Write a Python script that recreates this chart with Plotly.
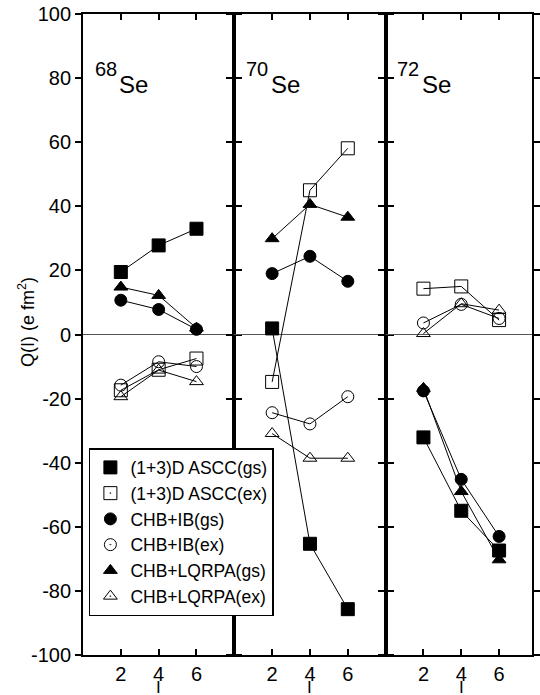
import plotly.graph_objects as go
from plotly.subplots import make_subplots

# ---------------- data ----------------
spins = [2, 4, 6]
nuclei = ["68", "70", "72"]
y_ticks = list(range(-100, 101, 20))

ascc_gs = [[19.5, 27.8, 33.0], [1.9, -65.3, -85.7], [-32.1, -55.0, -67.4]]
ascc_ex = [[-17.4, -11.0, -7.5], [-14.8, 45.0, 58.1], [14.3, 15.0, 4.5]]
ib_gs = [[10.7, 7.8, 1.6], [19.0, 24.4, 16.6], [-17.6, -45.2, -63.0]]
ib_ex = [[-15.8, -8.5, -10.0], [-24.4, -27.9, -19.4], [3.6, 9.4, 5.0]]
lq_gs = [[14.8, 12.2, 2.0], [29.9, 40.6, 36.6], [-16.8, -49.0, -70.3]]
lq_ex = [[-19.4, -11.1, -14.7], [-30.9, -38.6, -38.6], [0.3, 9.6, 7.6]]

series = [
    ("(1+3)D ASCC(gs)", ascc_gs, "square", "square", 13),
    ("(1+3)D ASCC(ex)", ascc_ex, "square-open", "square-open-dot", 13),
    ("CHB+IB(gs)", ib_gs, "circle", "circle", 12),
    ("CHB+IB(ex)", ib_ex, "circle-open", "circle-open-dot", 12),
    ("CHB+LQRPA(gs)", lq_gs, "triangle-up", "triangle-up", 12),
    ("CHB+LQRPA(ex)", lq_ex, "triangle-up-open", "triangle-up-open-dot", 12),
]

FONT = "Liberation Sans, Arial, sans-serif"

fig = make_subplots(rows=1, cols=3, horizontal_spacing=0)

for p in range(3):
    for name, data, sym, lsym, size in series:
        fig.add_trace(go.Scatter(
            x=spins, y=data[p], mode="lines+markers",
            line=dict(color="black", width=1),
            marker=dict(symbol=sym, size=size, color="black",
                        line=dict(color="black", width=1)),
            showlegend=False, hoverinfo="skip"), row=1, col=p + 1)

# legend-only entries
for name, data, sym, lsym, size in series:
    fig.add_trace(go.Scatter(
        x=[None], y=[None], mode="markers", name=name,
        marker=dict(symbol=lsym, size=size, color="black",
                    line=dict(color="black", width=1))), row=1, col=1)

W, L, R, T, B = 540, 83, 0, 14, 40
plot_w = W - L - R
plot_h = 695 - T - B
px_per_unit = 154 / 8.0
doms = [[0, 154 / plot_w], [154 / plot_w, 308 / plot_w], [308 / plot_w, 1]]
xmax3 = (plot_w - 308) / px_per_unit

for i in range(3):
    xa = "xaxis" if i == 0 else f"xaxis{i+1}"
    ya = "yaxis" if i == 0 else f"yaxis{i+1}"
    fig.update_layout({
        xa: dict(domain=doms[i], range=[0, 8 if i < 2 else xmax3],
                 tickvals=spins, ticktext=[str(s) for s in spins],
                 ticks="inside", ticklen=6, tickwidth=1.5, tickcolor="black",
                 showline=True, linecolor="black", linewidth=1.8, mirror="ticks",
                 showgrid=False, zeroline=False,
                 tickfont=dict(family=FONT, size=20, color="black")),
        ya: dict(range=[-100, 100], tickvals=y_ticks,
                 ticktext=[str(v) for v in y_ticks],
                 ticks="outside", ticklen=6, tickwidth=1.5, tickcolor="black",
                 showline=True, linecolor="black", linewidth=1.8, mirror="ticks",
                 showgrid=False, zeroline=True, zerolinecolor="#555",
                 zerolinewidth=1, showticklabels=(i == 0),
                 tickfont=dict(family=FONT, size=20, color="black")),
    })

annotations = []
for i, nuc in enumerate(nuclei):
    xr = "x" if i == 0 else f"x{i+1}"
    yr = "y" if i == 0 else f"y{i+1}"
    annotations.append(dict(x=0.52, y=82.9, xref=xr, yref=yr, text=nuc,
                            showarrow=False, xanchor="left", yanchor="middle",
                            font=dict(family=FONT, size=20, color="black")))
    annotations.append(dict(x=1.82, y=78.1, xref=xr, yref=yr, text="Se",
                            showarrow=False, xanchor="left", yanchor="middle",
                            font=dict(family=FONT, size=24, color="black")))
    annotations.append(dict(x=4, y=1 - (687 - T) / plot_h, xref=xr, yref="paper",
                            text="I", showarrow=False,
                            xanchor="center", yanchor="middle",
                            font=dict(family=FONT, size=17, color="black")))

annotations.append(dict(x=(25 - L) / plot_w, y=1 - (322 - T) / plot_h,
                        xref="paper", yref="paper",
                        text="Q(I) (e fm<sup>2</sup>)", textangle=-90,
                        showarrow=False, xanchor="center", yanchor="middle",
                        font=dict(family=FONT, size=18, color="black")))

fig.update_layout(
    width=W, height=695,
    margin=dict(l=L, r=R, t=T, b=B),
    paper_bgcolor="white", plot_bgcolor="white",
    font=dict(family=FONT, size=18, color="black"),
    annotations=annotations,
    legend=dict(x=(89 - L) / plot_w, y=1 - (448 - T) / plot_h,
                xanchor="left", yanchor="top",
                bgcolor="white", bordercolor="black", borderwidth=1.5,
                font=dict(family=FONT, size=17.5, color="black"),
                tracegroupgap=0),
)

fig.write_html("out.html")
